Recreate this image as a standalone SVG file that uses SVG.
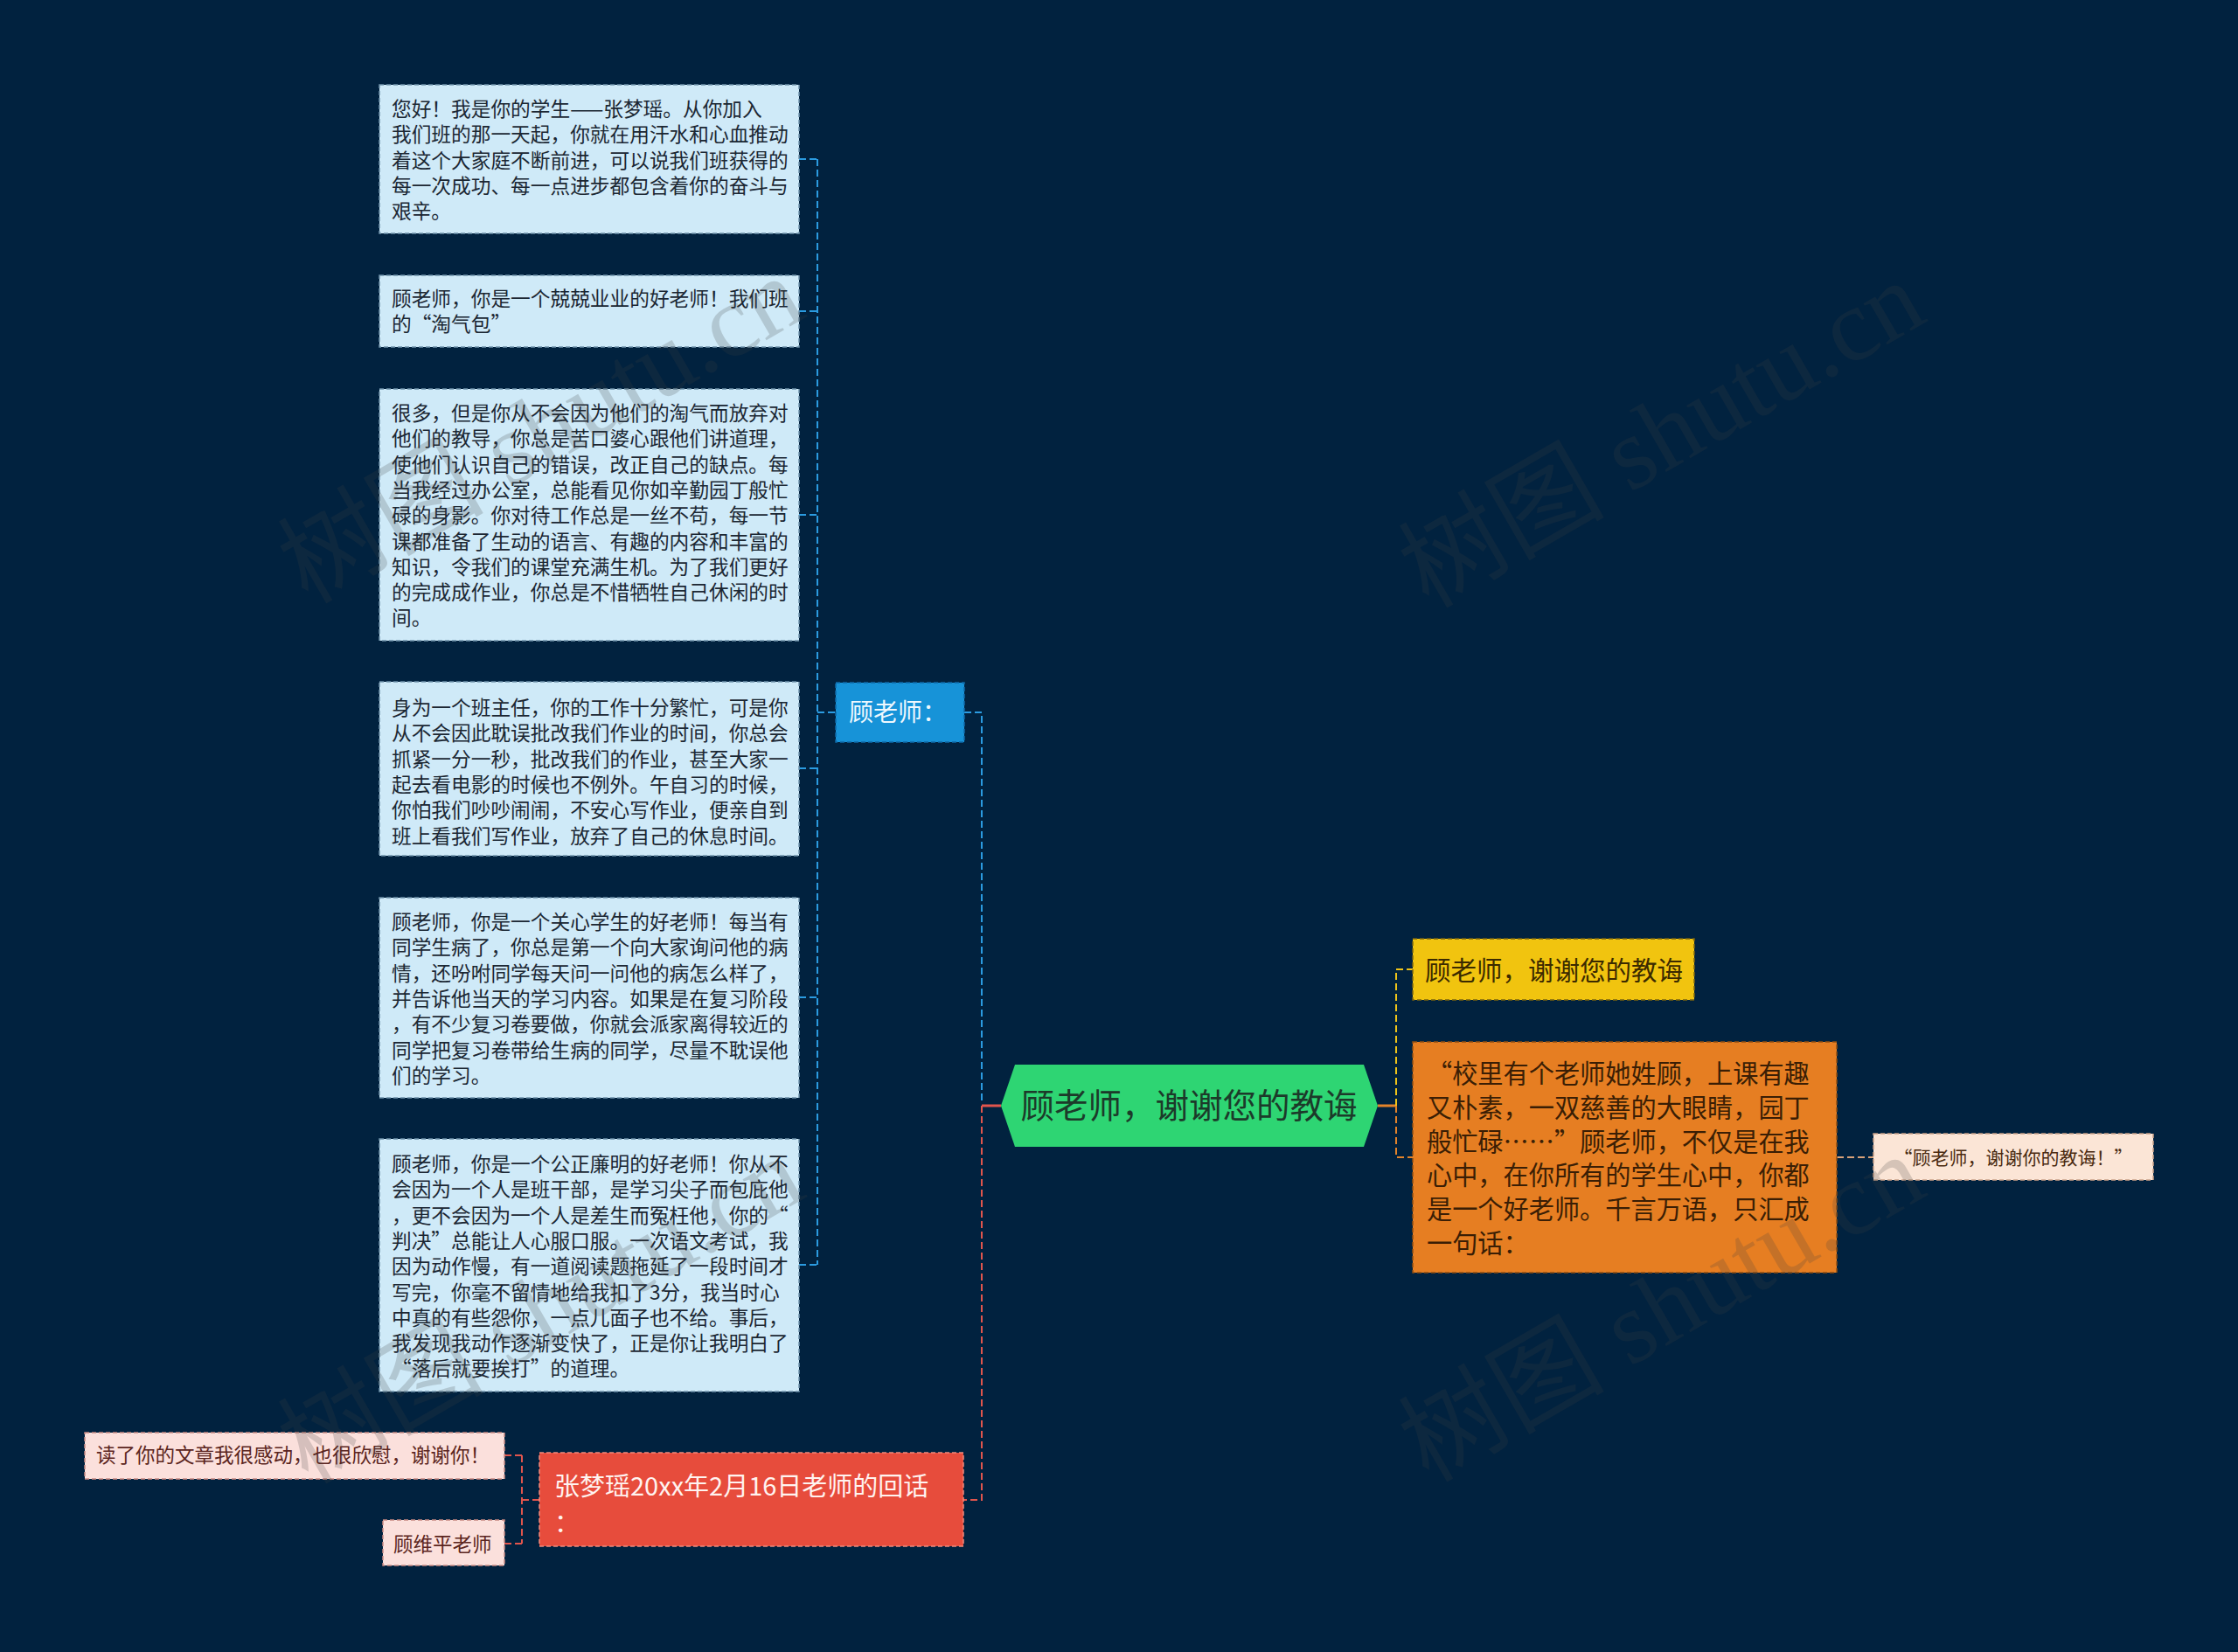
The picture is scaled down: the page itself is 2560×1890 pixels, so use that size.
<svg xmlns="http://www.w3.org/2000/svg" width="2560" height="1890" viewBox="0 0 2560 1890">
<style>
text{font-family:"Noto Sans CJK SC","Noto Sans",sans-serif;}
.bx{fill:#cfeaf8;stroke:#6f93ab;stroke-width:1.5;stroke-dasharray:5 3;}
.bt{font-size:22.7px;fill:#1b2733;}
.pk{fill:#fbe0dc;stroke:#c98a84;stroke-width:1.5;stroke-dasharray:5 3;}
.pt{font-size:22.5px;fill:#5b2520;}
.cb{fill:none;stroke:#2b9be0;stroke-width:2;stroke-dasharray:8 4;}
.cr{fill:none;stroke:#e0554d;stroke-width:2;stroke-dasharray:8 4;}
.cy{fill:none;stroke:#f0c419;stroke-width:2;stroke-dasharray:8 4;}
.co{fill:none;stroke:#e3832a;stroke-width:2;stroke-dasharray:8 4;}
.cp{fill:none;stroke:#d9a27a;stroke-width:2;stroke-dasharray:8 4;}
.wm{font-family:"Liberation Serif","Noto Sans CJK SC",serif;font-size:118px;fill:#404040;opacity:0.2;}
</style>
<rect x="0" y="0" width="2560" height="1890" fill="#01223f"/>

<g id="connectors">
  <path class="cb" d="M935 182 V1447"/>
  <path class="cb" d="M914 182 H935 M914 356 H935 M914 589 H935 M914 879 H935 M914 1141 H935 M914 1447 H935"/>
  <path class="cb" d="M935 815 H956"/>
  <path class="cb" d="M1103 815 H1123 V1263"/>
  <path d="M1123 1265 H1145" fill="none" stroke="#e0554d" stroke-width="3"/>
  <path class="cr" d="M1123 1265 V1716 H1102"/>
  <path class="cr" d="M617 1716 H597 M597 1665 V1766 M597 1665 H577 M597 1766 H577"/>
  <path d="M1576 1265 H1597" fill="none" stroke="#e3832a" stroke-width="3"/>
  <path class="cy" d="M1597 1265 V1109 H1616"/>
  <path class="co" d="M1597 1265 V1324 H1616"/>
  <path class="cp" d="M2101 1324 H2143"/>
</g>

<g id="center">
  <polygon points="1145,1265 1161,1218 1560,1218 1576,1265 1560,1312 1161,1312" fill="#2ed573"/>
  <text x="1360" y="1279" text-anchor="middle" font-size="38.5" fill="#1c3a2a">顾老师，谢谢您的教诲</text>
</g>

<g id="n-gu">
  <rect x="956" y="781" width="147" height="68" fill="#1793d8" stroke="#0f6aa8" stroke-width="1.5" stroke-dasharray="5 3"/>
  <text x="971" y="825" font-size="28" fill="#eef8fe">顾老师：</text>
</g>

<g id="b1">
  <rect class="bx" x="434" y="97" width="480" height="170"/>
  <text class="bt" x="448" y="133"><tspan x="448">您好！我是你的学生——张梦瑶。从你加入</tspan><tspan x="448" dy="29.3">我们班的那一天起，你就在用汗水和心血推动</tspan><tspan x="448" dy="29.3">着这个大家庭不断前进，可以说我们班获得的</tspan><tspan x="448" dy="29.3">每一次成功、每一点进步都包含着你的奋斗与</tspan><tspan x="448" dy="29.3">艰辛。</tspan></text>
</g>

<g id="b2">
  <rect class="bx" x="434" y="315" width="480" height="82"/>
  <text class="bt" x="448" y="350"><tspan x="448">顾老师，你是一个兢兢业业的好老师！我们班</tspan><tspan x="448" dy="29.3">的“淘气包”</tspan></text>
</g>

<g id="b3">
  <rect class="bx" x="434" y="445" width="480" height="288"/>
  <text class="bt" x="448" y="481"><tspan x="448">很多，但是你从不会因为他们的淘气而放弃对</tspan><tspan x="448" dy="29.3">他们的教导，你总是苦口婆心跟他们讲道理，</tspan><tspan x="448" dy="29.3">使他们认识自己的错误，改正自己的缺点。每</tspan><tspan x="448" dy="29.3">当我经过办公室，总能看见你如辛勤园丁般忙</tspan><tspan x="448" dy="29.3">碌的身影。你对待工作总是一丝不苟，每一节</tspan><tspan x="448" dy="29.3">课都准备了生动的语言、有趣的内容和丰富的</tspan><tspan x="448" dy="29.3">知识，令我们的课堂充满生机。为了我们更好</tspan><tspan x="448" dy="29.3">的完成成作业，你总是不惜牺牲自己休闲的时</tspan><tspan x="448" dy="29.3">间。</tspan></text>
</g>

<g id="b4">
  <rect class="bx" x="434" y="780" width="480" height="199"/>
  <text class="bt" x="448" y="818"><tspan x="448">身为一个班主任，你的工作十分繁忙，可是你</tspan><tspan x="448" dy="29.3">从不会因此耽误批改我们作业的时间，你总会</tspan><tspan x="448" dy="29.3">抓紧一分一秒，批改我们的作业，甚至大家一</tspan><tspan x="448" dy="29.3">起去看电影的时候也不例外。午自习的时候，</tspan><tspan x="448" dy="29.3">你怕我们吵吵闹闹，不安心写作业，便亲自到</tspan><tspan x="448" dy="29.3">班上看我们写作业，放弃了自己的休息时间。</tspan></text>
</g>

<g id="b5">
  <rect class="bx" x="434" y="1027" width="480" height="229"/>
  <text class="bt" x="448" y="1063"><tspan x="448">顾老师，你是一个关心学生的好老师！每当有</tspan><tspan x="448" dy="29.3">同学生病了，你总是第一个向大家询问他的病</tspan><tspan x="448" dy="29.3">情，还吩咐同学每天问一问他的病怎么样了，</tspan><tspan x="448" dy="29.3">并告诉他当天的学习内容。如果是在复习阶段</tspan><tspan x="448" dy="29.3">，有不少复习卷要做，你就会派家离得较近的</tspan><tspan x="448" dy="29.3">同学把复习卷带给生病的同学，尽量不耽误他</tspan><tspan x="448" dy="29.3">们的学习。</tspan></text>
</g>

<g id="b6">
  <rect class="bx" x="434" y="1303" width="480" height="289"/>
  <text class="bt" x="448" y="1340"><tspan x="448">顾老师，你是一个公正廉明的好老师！你从不</tspan><tspan x="448" dy="29.3">会因为一个人是班干部，是学习尖子而包庇他</tspan><tspan x="448" dy="29.3">，更不会因为一个人是差生而冤枉他，你的“</tspan><tspan x="448" dy="29.3">判决”总能让人心服口服。一次语文考试，我</tspan><tspan x="448" dy="29.3">因为动作慢，有一道阅读题拖延了一段时间才</tspan><tspan x="448" dy="29.3">写完，你毫不留情地给我扣了3分，我当时心</tspan><tspan x="448" dy="29.3">中真的有些怨你，一点儿面子也不给。事后，</tspan><tspan x="448" dy="29.3">我发现我动作逐渐变快了，正是你让我明白了</tspan><tspan x="448" dy="29.3">“落后就要挨打”的道理。</tspan></text>
</g>

<g id="n-red">
  <rect x="617" y="1662" width="485" height="107" fill="#e74c3c" stroke="#f08a7e" stroke-width="1.5" stroke-dasharray="5 3"/>
  <text x="634" y="1711" font-size="29" fill="#fff3f0"><tspan x="634">张梦瑶20xx年2月16日老师的回话</tspan><tspan x="634" dy="42">：</tspan></text>
</g>

<g id="p1">
  <rect class="pk" x="97" y="1639" width="480" height="53"/>
  <text class="pt" x="110" y="1673">读了你的文章我很感动，也很欣慰，谢谢你！</text>
</g>

<g id="p2">
  <rect class="pk" x="438" y="1739" width="139" height="52"/>
  <text class="pt" x="450" y="1775">顾维平老师</text>
</g>

<g id="n-yellow">
  <rect x="1616" y="1074" width="322" height="70" fill="#f1c40f" stroke="#7a6410" stroke-width="1.5" stroke-dasharray="5 3"/>
  <text x="1630" y="1121" font-size="29.5" fill="#3b2a00">顾老师，谢谢您的教诲</text>
</g>

<g id="n-orange">
  <rect x="1616" y="1192" width="485" height="264" fill="#e67e22" stroke="#8f4d12" stroke-width="1.5" stroke-dasharray="5 3"/>
  <text x="1632" y="1239" font-size="29.2" fill="#3a1e05"><tspan x="1632">“校里有个老师她姓顾，上课有趣</tspan><tspan x="1632" dy="38.8">又朴素，一双慈善的大眼睛，园丁</tspan><tspan x="1632" dy="38.8">般忙碌……”顾老师，不仅是在我</tspan><tspan x="1632" dy="38.8">心中，在你所有的学生心中，你都</tspan><tspan x="1632" dy="38.8">是一个好老师。千言万语，只汇成</tspan><tspan x="1632" dy="38.8">一句话：</tspan></text>
</g>

<g id="n-peach">
  <rect x="2143" y="1297" width="320" height="53" fill="#fbe5d6" stroke="#c9a088" stroke-width="1.5" stroke-dasharray="5 3"/>
  <text x="2303" y="1332" text-anchor="middle" font-size="21" fill="#4a2a10">“顾老师，谢谢你的教诲！”</text>
</g>

<g id="watermarks">
  <text class="wm" x="352" y="692" transform="rotate(-30 352 692)">树图 shutu.cn</text>
  <text class="wm" x="1634" y="697" transform="rotate(-30 1634 697)">树图 shutu.cn</text>
  <text class="wm" x="352" y="1699" transform="rotate(-30 352 1699)">树图 shutu.cn</text>
  <text class="wm" x="1634" y="1697" transform="rotate(-30 1634 1697)">树图 shutu.cn</text>
</g>
</svg>
